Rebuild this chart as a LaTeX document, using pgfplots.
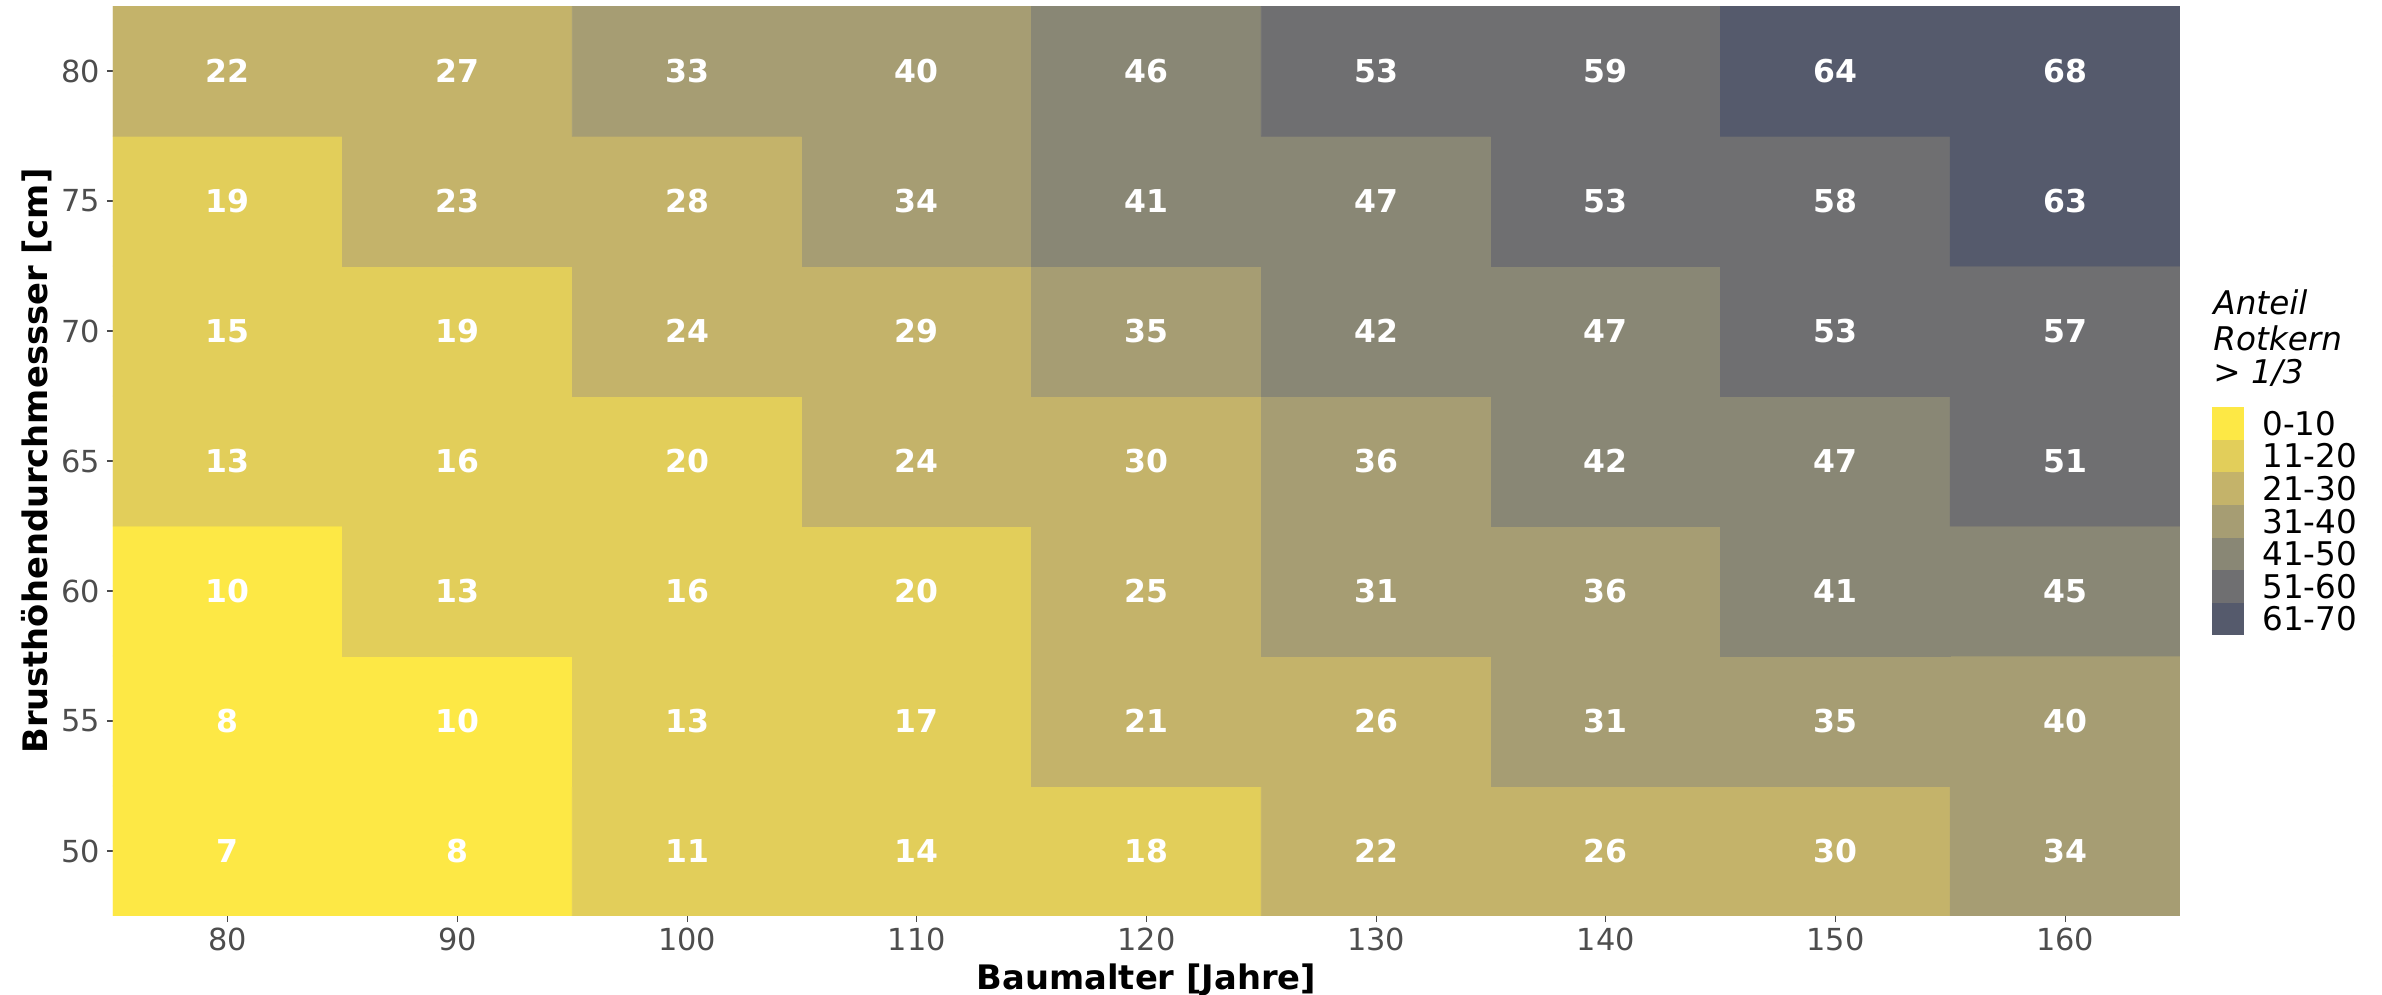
\documentclass[border=0pt]{standalone}
\usepackage{fontspec}
\setmainfont{DejaVu Sans}
\usepackage{pgfplots}
\usepackage{pgfplotstable}
\pgfplotsset{compat=1.18}

\definecolor{c0}{RGB}{253,232,69}
\definecolor{c1}{RGB}{226,206,90}
\definecolor{c2}{RGB}{196,179,106}
\definecolor{c3}{RGB}{166,157,115}
\definecolor{c4}{RGB}{137,135,117}
\definecolor{c5}{RGB}{111,111,113}
\definecolor{c6}{RGB}{85,90,108}
\definecolor{tickgray}{RGB}{77,77,77}

\pgfplotstableread{
x y v b
80 50 7 0
90 50 8 0
100 50 11 1
110 50 14 1
120 50 18 1
130 50 22 2
140 50 26 2
150 50 30 2
160 50 34 3
80 55 8 0
90 55 10 0
100 55 13 1
110 55 17 1
120 55 21 2
130 55 26 2
140 55 31 3
150 55 35 3
160 55 40 3
80 60 10 0
90 60 13 1
100 60 16 1
110 60 20 1
120 60 25 2
130 60 31 3
140 60 36 3
150 60 41 4
160 60 45 4
80 65 13 1
90 65 16 1
100 65 20 1
110 65 24 2
120 65 30 2
130 65 36 3
140 65 42 4
150 65 47 4
160 65 51 5
80 70 15 1
90 70 19 1
100 70 24 2
110 70 29 2
120 70 35 3
130 70 42 4
140 70 47 4
150 70 53 5
160 70 57 5
80 75 19 1
90 75 23 2
100 75 28 2
110 75 34 3
120 75 41 4
130 75 47 4
140 75 53 5
150 75 58 5
160 75 63 6
80 80 22 2
90 80 27 2
100 80 33 3
110 80 40 3
120 80 46 4
130 80 53 5
140 80 59 5
150 80 64 6
160 80 68 6
}\datatab

\begin{document}
\begin{tikzpicture}
\begin{axis}[
  scale only axis,
  width=918.7pt, height=404.4pt,
  xmin=75, xmax=165, ymin=47.5, ymax=82.5,
  xtick={80,90,...,160}, ytick={50,55,...,80},
  axis line style={draw=none},
  tick align=outside,
  xtick pos=bottom, ytick pos=left,
  major tick length=2.7pt,
  tick style={color=gray!60!black, line width=0.5pt},
  /pgf/number format/assume math mode=true,
  ticklabel style={font=\fontsize{13.5}{15}\selectfont, text=tickgray},
  xticklabel style={anchor=north, inner sep=0pt, yshift=-2.5pt},
  yticklabel style={anchor=east, inner sep=0pt, xshift=-3pt},
  xlabel={Baumalter [Jahre]},
  ylabel={Brusthöhendurchmessser [cm]},
  label style={font=\bfseries\fontsize{15}{17}\selectfont},
  xlabel style={at={(axis description cs:0.5,0)}, anchor=center, yshift=-28.7pt},
  ylabel style={at={(axis description cs:0,0.5)}, anchor=center, yshift=33.8pt},
  colormap={bins}{color=(c0) color=(c1) color=(c2) color=(c3) color=(c4) color=(c5) color=(c6)},
  colormap access=direct,
]
\addplot[matrix plot*, mesh/cols=9, point meta=explicit] table[x=x, y=y, meta=b] \datatab;
\addplot[draw=none, nodes near coords, point meta=explicit symbolic,
  nodes near coords style={anchor=center, text=white, font=\bfseries\fontsize{14}{15}\selectfont}]
  table[x=x, y=y, meta=v] \datatab;
\coordinate (sw) at (rel axis cs:0,0);
\coordinate (ne) at (rel axis cs:1,1);
\end{axis}
% legend
\begin{scope}[shift={(ne)}]
  \node[anchor=west, inner sep=0pt, font=\itshape\fontsize{14.5}{16}\selectfont] at (14.7pt,-131.6pt) {Anteil};
  \node[anchor=west, inner sep=0pt, font=\itshape\fontsize{14.5}{16}\selectfont] at (14.7pt,-147.6pt) {Rotkern};
  \node[anchor=west, inner sep=0pt, font=\itshape\fontsize{14.5}{16}\selectfont] at (14.7pt,-163.1pt) {> 1/3};
  \foreach \c/\lab [count=\i from 0] in {c0/0-10, c1/11-20, c2/21-30, c3/31-40, c4/41-50, c5/51-60, c6/61-70} {
    \fill[\c] (14.2pt,{-178.2pt-\i*14.5pt}) rectangle (28.4pt,{-178.2pt-(\i+1)*14.5pt});
    \node[anchor=west, inner sep=0pt, font=\fontsize{14.5}{16}\selectfont] at (36.4pt,{-178.2pt-(\i+0.5)*14.5pt}) {\lab};
  }
\end{scope}
\pgfresetboundingbox
\useasboundingbox ([xshift=-50.2pt,yshift=-34.7pt]sw) rectangle ([xshift=89.8pt,yshift=2.7pt]ne);
\end{tikzpicture}
\end{document}
